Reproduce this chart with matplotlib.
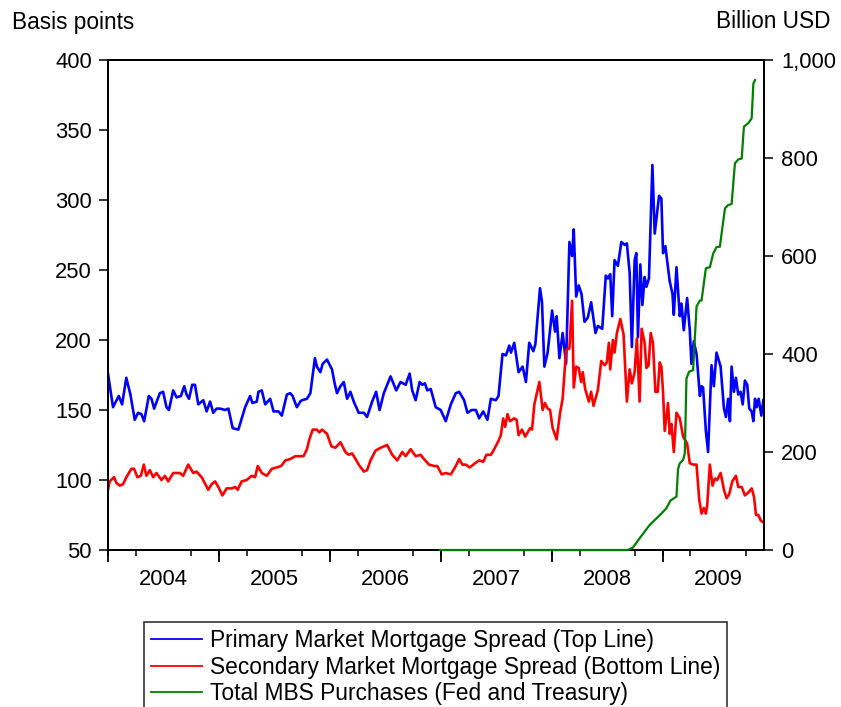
import matplotlib
matplotlib.use("Agg")
import matplotlib.pyplot as plt
from matplotlib.ticker import FixedLocator, FuncFormatter
from matplotlib.patches import Rectangle

plt.rcParams['font.family'] = ['Liberation Sans', 'DejaVu Sans']

# ---- data (x in decimal years) ----
primary_t = [2004.000, 2004.045, 2004.097, 2004.127, 2004.165, 2004.202, 2004.241, 2004.271, 2004.301, 2004.326,
             2004.368, 2004.392, 2004.416, 2004.467, 2004.497, 2004.527, 2004.549, 2004.588, 2004.618, 2004.657,
             2004.687, 2004.708, 2004.730, 2004.759, 2004.784, 2004.814, 2004.859, 2004.889, 2004.920, 2004.949,
             2004.979, 2005.010, 2005.055, 2005.085, 2005.124, 2005.175, 2005.236, 2005.281, 2005.302, 2005.341,
             2005.356, 2005.386, 2005.417, 2005.462, 2005.492, 2005.537, 2005.567, 2005.612, 2005.643, 2005.664,
             2005.702, 2005.733, 2005.748, 2005.793, 2005.824, 2005.865, 2005.883, 2005.914, 2005.935, 2005.974,
             2006.019, 2006.043, 2006.064, 2006.095, 2006.125, 2006.155, 2006.185, 2006.215, 2006.260, 2006.306,
             2006.335, 2006.381, 2006.417, 2006.448, 2006.486, 2006.547, 2006.598, 2006.637, 2006.683, 2006.719,
             2006.742, 2006.773, 2006.809, 2006.833, 2006.857, 2006.878, 2006.909, 2006.954, 2006.999, 2007.044,
             2007.090, 2007.135, 2007.165, 2007.210, 2007.240, 2007.279, 2007.316, 2007.345, 2007.382, 2007.420,
             2007.451, 2007.496, 2007.520, 2007.556, 2007.587, 2007.617, 2007.632, 2007.662, 2007.701, 2007.737,
             2007.767, 2007.797, 2007.834, 2007.852, 2007.894, 2007.912, 2007.933, 2007.963, 2008.003, 2008.030,
             2008.044, 2008.069, 2008.098, 2008.129, 2008.159, 2008.183, 2008.198, 2008.220, 2008.243, 2008.268,
             2008.295, 2008.325, 2008.355, 2008.394, 2008.415, 2008.455, 2008.487, 2008.507, 2008.527, 2008.545,
             2008.566, 2008.596, 2008.627, 2008.656, 2008.677, 2008.702, 2008.722, 2008.747, 2008.762, 2008.777,
             2008.798, 2008.817, 2008.837, 2008.853, 2008.876, 2008.907, 2008.928, 2008.967, 2008.988, 2009.003,
             2009.024, 2009.063, 2009.088, 2009.100, 2009.124, 2009.154, 2009.169, 2009.190, 2009.220, 2009.244,
             2009.259, 2009.280, 2009.305, 2009.335, 2009.350, 2009.364, 2009.389, 2009.409, 2009.440, 2009.461,
             2009.485, 2009.522, 2009.552, 2009.570, 2009.590, 2009.606, 2009.621, 2009.642, 2009.660, 2009.681,
             2009.702, 2009.721, 2009.741, 2009.762, 2009.780, 2009.802, 2009.817, 2009.832, 2009.847, 2009.865,
             2009.889, 2009.907]
primary_bp = [176, 152, 160, 154, 173, 161, 143, 148, 147, 142,
              160, 158, 151, 162, 163, 152, 150, 164, 159, 160,
              167, 161, 158, 168, 168, 154, 157, 149, 156, 148,
              151, 151, 150, 151, 137, 136, 152, 160, 155, 156,
              163, 164, 154, 158, 149, 149, 146, 161, 162, 160,
              152, 156, 157, 158, 162, 187, 181, 177, 183, 186,
              179, 169, 162, 167, 170, 158, 163, 156, 148, 148,
              145, 156, 163, 150, 162, 174, 164, 170, 168, 176,
              164, 157, 170, 168, 169, 164, 165, 152, 150, 142,
              154, 162, 163, 157, 148, 150, 150, 144, 149, 143,
              158, 157, 160, 190, 189, 196, 191, 198, 177, 181,
              170, 198, 192, 197, 237, 227, 181, 191, 221, 206,
              217, 187, 205, 183, 270, 260, 279, 231, 239, 233,
              213, 216, 227, 205, 210, 208, 246, 244, 247, 217,
              257, 253, 270, 268, 269, 248, 195, 257, 262, 202,
              254, 225, 245, 238, 244, 325, 276, 303, 301, 262,
              267, 242, 233, 218, 252, 217, 226, 207, 230, 207,
              183, 199, 190, 160, 167, 166, 135, 120, 182, 167,
              191, 181, 151, 145, 158, 142, 181, 163, 173, 161,
              163, 154, 171, 168, 151, 149, 142, 158, 152, 158,
              146, 157]

secondary_t = [2004.000, 2004.015, 2004.054, 2004.075, 2004.106, 2004.136, 2004.165, 2004.211, 2004.235, 2004.265,
               2004.296, 2004.323, 2004.346, 2004.377, 2004.407, 2004.437, 2004.482, 2004.513, 2004.542, 2004.588,
               2004.648, 2004.678, 2004.723, 2004.769, 2004.798, 2004.844, 2004.904, 2004.934, 2004.965, 2004.995,
               2005.031, 2005.070, 2005.115, 2005.146, 2005.169, 2005.205, 2005.250, 2005.296, 2005.326, 2005.350,
               2005.386, 2005.431, 2005.477, 2005.522, 2005.561, 2005.598, 2005.643, 2005.688, 2005.733, 2005.763,
               2005.793, 2005.815, 2005.845, 2005.883, 2005.905, 2005.929, 2005.974, 2006.014, 2006.050, 2006.095,
               2006.140, 2006.170, 2006.200, 2006.224, 2006.260, 2006.306, 2006.335, 2006.366, 2006.411, 2006.457,
               2006.516, 2006.562, 2006.607, 2006.652, 2006.683, 2006.728, 2006.773, 2006.818, 2006.848, 2006.893,
               2006.939, 2006.968, 2007.008, 2007.044, 2007.090, 2007.135, 2007.165, 2007.194, 2007.225, 2007.261,
               2007.309, 2007.345, 2007.382, 2007.411, 2007.451, 2007.481, 2007.520, 2007.541, 2007.562, 2007.580,
               2007.601, 2007.623, 2007.662, 2007.683, 2007.701, 2007.731, 2007.761, 2007.804, 2007.822, 2007.843,
               2007.888, 2007.918, 2007.939, 2007.963, 2007.985, 2008.008, 2008.044, 2008.075, 2008.098, 2008.129,
               2008.159, 2008.183, 2008.198, 2008.220, 2008.243, 2008.265, 2008.280, 2008.301, 2008.334, 2008.355,
               2008.376, 2008.415, 2008.446, 2008.476, 2008.496, 2008.515, 2008.527, 2008.551, 2008.566, 2008.587,
               2008.618, 2008.647, 2008.677, 2008.702, 2008.722, 2008.747, 2008.767, 2008.792, 2008.810, 2008.837,
               2008.853, 2008.873, 2008.892, 2008.912, 2008.934, 2008.955, 2008.973, 2008.988, 2009.003, 2009.018,
               2009.033, 2009.048, 2009.063, 2009.079, 2009.100, 2009.124, 2009.154, 2009.184, 2009.220, 2009.244,
               2009.274, 2009.305, 2009.329, 2009.350, 2009.371, 2009.389, 2009.401, 2009.425, 2009.449, 2009.470,
               2009.491, 2009.522, 2009.552, 2009.576, 2009.600, 2009.627, 2009.660, 2009.681, 2009.712, 2009.741,
               2009.771, 2009.802, 2009.823, 2009.841, 2009.862, 2009.884, 2009.901]
secondary_bp = [93, 99, 102, 98, 96, 97, 102, 108, 108, 102,
                103, 111, 103, 107, 102, 105, 100, 103, 99, 105,
                105, 103, 111, 105, 106, 102, 93, 97, 99, 95,
                89, 94, 94, 95, 93, 99, 100, 103, 102, 110,
                105, 103, 108, 109, 110, 114, 115, 117, 117, 117,
                122, 129, 136, 136, 134, 136, 133, 124, 123, 127,
                120, 118, 119, 116, 111, 106, 107, 114, 121, 123,
                125, 118, 114, 120, 117, 122, 117, 118, 115, 111,
                110, 110, 104, 105, 104, 110, 115, 111, 111, 109,
                112, 114, 113, 118, 118, 122, 128, 132, 144, 138,
                147, 142, 144, 143, 132, 136, 131, 137, 136, 154,
                170, 150, 155, 151, 150, 137, 129, 148, 158, 193,
                194, 228, 166, 181, 180, 170, 177, 165, 156, 163,
                153, 164, 185, 182, 184, 198, 179, 200, 191, 205,
                215, 204, 156, 179, 169, 177, 201, 156, 208, 198,
                180, 182, 205, 198, 163, 163, 184, 181, 163, 135,
                145, 155, 133, 140, 120, 148, 144, 131, 126, 112,
                111, 111, 86, 76, 80, 76, 82, 111, 96, 101,
                100, 105, 93, 87, 90, 99, 103, 95, 95, 89,
                91, 94, 88, 75, 75, 71, 70]

mbs_t = [2006.993, 2008.686, 2008.731, 2008.792, 2008.882, 2008.973, 2009.033, 2009.070, 2009.124, 2009.138,
         2009.154, 2009.184, 2009.199, 2009.214, 2009.238, 2009.274, 2009.305, 2009.335, 2009.350, 2009.389,
         2009.425, 2009.455, 2009.485, 2009.515, 2009.561, 2009.590, 2009.621, 2009.651, 2009.681, 2009.712,
         2009.732, 2009.771, 2009.802, 2009.817, 2009.832]
mbs_bn = [0, 0, 5, 24, 51, 71, 85, 101, 109, 165,
          177, 184, 197, 350, 364, 367, 497, 509, 509, 575,
          577, 605, 618, 619, 697, 704, 706, 789, 797, 799,
          864, 871, 881, 952, 959]

years = [2004, 2005, 2006, 2007, 2008, 2009]
left_ticks = [50, 100, 150, 200, 250, 300, 350, 400]
right_ticks = [0, 200, 400, 600, 800, 1000]
labels = ["Primary Market Mortgage Spread (Top Line)",
          "Secondary Market Mortgage Spread (Bottom Line)",
          "Total MBS Purchases (Fed and Treasury)"]

# ---- figure ----
W, H = 841, 707
fig = plt.figure(figsize=(W / 100, H / 100), dpi=100)
ax = fig.add_axes([108 / W, 1 - 550 / H, (764 - 108) / W, (550 - 60) / H])
ax2 = ax.twinx()

l1, = ax.plot(primary_t, primary_bp, color='#0000FF', lw=1.9, zorder=3)
l2, = ax.plot(secondary_t, secondary_bp, color='#FF0000', lw=1.9, zorder=3)
l3, = ax2.plot(mbs_t, mbs_bn, color='#008000', lw=1.6, zorder=3, clip_on=False)

ax.set_xlim(2004.0, 2009.913)
ax.set_ylim(50, 400)
ax2.set_ylim(0, 1000)

ax.set_yticks(left_ticks)
ax.set_yticklabels([str(v) for v in left_ticks])
ax2.set_yticks(right_ticks)
ax2.yaxis.set_major_formatter(FuncFormatter(lambda v, p: f"{int(v):,}"))

# year labels in the middle of each year, boundary ticks long, quarterly ticks short
ax.set_xticks([y + 0.5 for y in years])
ax.set_xticklabels([str(y) for y in years])
ax.tick_params(axis='x', which='major', length=0, pad=13.5, labelsize=15.8)
ax.xaxis.set_minor_locator(FixedLocator([y + q / 4 for y in years for q in range(4)]))
ax.tick_params(axis='x', which='minor', length=4.5, width=1.1, direction='out', color='black')
secx = ax.secondary_xaxis('bottom')
secx.set_xticks(years)
secx.set_xticklabels([])
secx.tick_params(axis='x', length=8.5, width=1.3, direction='out')
secx.spines['bottom'].set_visible(False)

ax.tick_params(axis='y', length=6.5, width=1.1, direction='out', pad=5, labelsize=15.8)
ax2.tick_params(axis='y', length=6.5, width=1.1, direction='out', pad=6, labelsize=15.8)

for a in (ax, ax2):
    for s in a.spines.values():
        s.set_linewidth(1.4)
        s.set_color('black')

fig.text(12 / W, 1 - 22 / H, "Basis points", fontsize=16.3, ha='left', va='center')
fig.text(830 / W, 1 - 21 / H, "Billion USD", fontsize=16.3, ha='right', va='center')

# legend box (extends beyond the bottom edge as in the reference)
fig.patches.append(Rectangle((144 / W, -0.05), (727 - 144) / W, (1 - 622 / H) + 0.05,
                             transform=fig.transFigure, fill=False, edgecolor='#333333', lw=1.2))
leg = fig.legend([l1, l2, l3], labels, loc='upper left', bbox_to_anchor=(151 / W, 1 - 629 / H),
                 frameon=False, fontsize=16.4, handlelength=2.25, handletextpad=0.35,
                 labelspacing=0.16, borderaxespad=0, borderpad=0.0)
for h in leg.get_lines():
    h.set_linewidth(1.3)

fig.savefig("out.png", dpi=100)
